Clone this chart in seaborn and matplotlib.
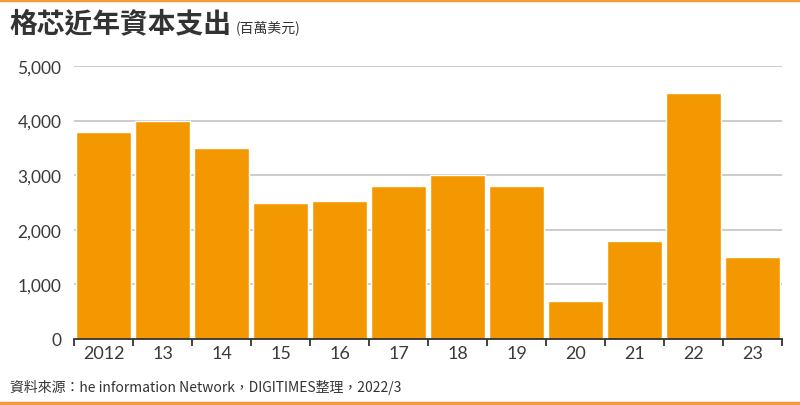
import numpy as np
import pandas as pd
import matplotlib
matplotlib.use("Agg")
import matplotlib.pyplot as plt
import seaborn as sns

years = ["2012", "13", "14", "15", "16", "17", "18", "19", "20", "21", "22", "23"]
capex = [3800, 4000, 3500, 2500, 2530, 2800, 3000, 2800, 700, 1800, 4500, 1500]
yticks = [0, 1000, 2000, 3000, 4000, 5000]
ylabels = ["0", "1,000", "2,000", "3,000", "4,000", "5,000"]

sns.set_theme(style="white")
plt.rcParams['font.family'] = ['Lato', 'Noto Sans CJK TC', 'DejaVu Sans']

orange = "#F39800"
df = pd.DataFrame({"year": years, "capex": capex})

fig = plt.figure(figsize=(8, 4.06), dpi=100)
ax = fig.add_axes([74 / 800, 1 - 340 / 406, 708 / 800, 273 / 406])

for y in yticks[1:]:
    ax.axhline(y, color="#c4c4c4", lw=1.2, zorder=0)

sns.barplot(data=df, x="year", y="capex", color=orange, saturation=1,
            width=0.93, ax=ax, zorder=2)

ax.set_xlim(-0.5, len(years) - 0.5)
ax.set_ylim(0, 5000)
ax.set_xlabel("")
ax.set_ylabel("")
ax.set_yticks(yticks)
ax.set_yticklabels(ylabels, fontsize=12.5, color="#3a3a3a")
ax.tick_params(axis="y", length=0, pad=9)
ax.set_xticks(range(len(years)))
ax.set_xticklabels(years, fontsize=13, color="#3a3a3a")
ax.set_xticks(np.arange(-0.5, len(years)), minor=True)
ax.tick_params(axis="x", which="major", length=0, pad=4)
ax.tick_params(axis="x", which="minor", length=5, width=1.3, color="#333333",
               direction="out", bottom=True)
for s in ["top", "right", "left"]:
    ax.spines[s].set_visible(False)
ax.spines["bottom"].set_color("#333333")
ax.spines["bottom"].set_linewidth(1.3)
ax.spines["bottom"].set_zorder(3)

fig.text(9 / 800, 1 - 24 / 406, "格芯近年資本支出", fontsize=20, fontweight="bold",
         color="#333333", va="center", family=["Noto Sans CJK TC", "DejaVu Sans"])
fig.text(236 / 800, 1 - 28 / 406, "(百萬美元)", fontsize=10, color="#333333",
         va="center", family=["Noto Sans CJK TC", "DejaVu Sans"])
fig.text(10 / 800, 1 - 387 / 406,
         "資料來源：he information Network，DIGITIMES整理，2022/3",
         fontsize=10, color="#333333", va="center",
         family=["Noto Sans CJK TC", "DejaVu Sans"])

fig.add_artist(plt.Line2D([0, 1], [1 - 1 / 406, 1 - 1 / 406], color="#F39A3A", lw=2.5))
fig.add_artist(plt.Line2D([0, 1], [2 / 406, 2 / 406], color="#F39A3A", lw=2.5))

fig.savefig("out.png", dpi=100)
